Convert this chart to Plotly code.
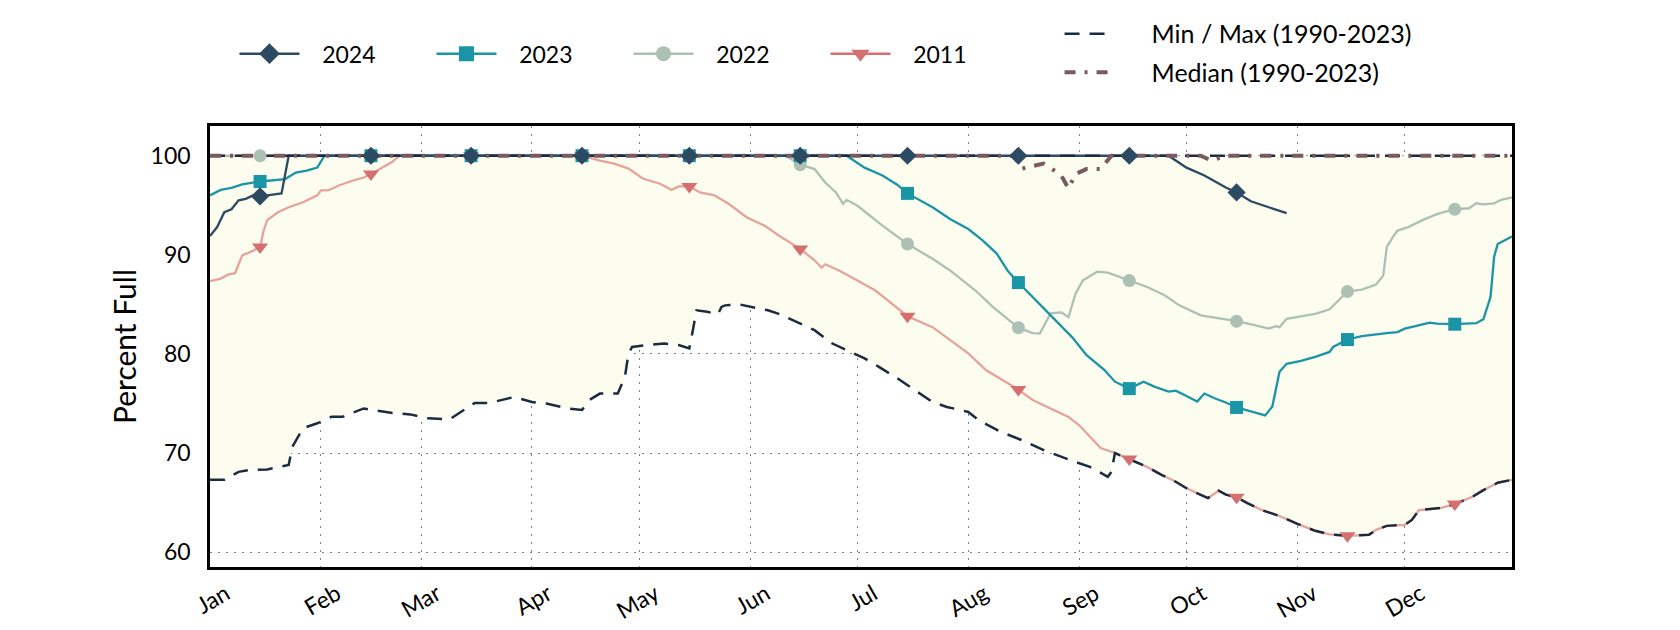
import plotly.graph_objects as go

YEAR = "2023"

# ---------------- data ----------------
s2024_dates = ["01-01","01-03","01-05","01-07","01-09","01-11","01-13","01-15","01-19","01-21","01-23",
               "02-15","03-15","04-15","05-15","06-15","07-15","08-15","09-15","09-26",
               "10-01","10-06","10-12","10-15","10-19","10-24","10-29"]
s2024_vals = [91.9,92.8,94.3,94.6,95.5,95.65,96.0,95.9,96.1,96.2,100,
              100,100,100,100,100,100,100,100,100,
              98.8,98.0,96.8,96.3,95.4,94.8,94.2]

s2023_dates = ["01-01","01-04","01-07","01-10","01-15","01-19","01-22","01-25","01-28","01-31","02-02",
               "02-15","03-15","04-15","05-15","06-15","06-28","07-03","07-08","07-12","07-15","07-22",
               "07-27","08-01","08-05","08-09","08-12","08-15","08-19","08-24","08-28","08-30","09-03",
               "09-08","09-11","09-15","09-19","09-22","09-26","09-28","10-01","10-04","10-06","10-09",
               "10-12","10-15","10-19","10-23","10-25","10-27","10-29","11-02","11-06","11-10","11-11",
               "11-15","11-19","11-23","11-26","11-29","12-01","12-04","12-08","12-10","12-15","12-21",
               "12-23","12-25","12-26","12-27","12-29","12-31"]
s2023_vals = [96.0,96.55,96.75,97.1,97.4,97.5,97.65,98.3,98.5,98.8,100,
              100,100,100,100,100,100,98.8,98.0,97.1,96.2,94.8,
              93.6,92.6,91.45,90.1,88.4,87.2,85.75,83.9,82.4,81.7,79.9,
              78.4,77.2,76.5,77.2,76.7,76.2,76.3,75.75,75.2,76.0,75.5,
              75.1,74.6,74.2,73.8,74.7,78.2,79.0,79.3,79.7,80.2,80.7,
              81.45,81.8,82.0,82.1,82.2,82.55,82.8,83.15,83.05,83.0,83.1,
              83.5,85.75,89.8,91.1,91.5,91.85]

s2022_dates = ["01-01","01-15","02-15","03-15","04-15","05-15","06-11","06-15","06-19","06-22","06-25",
               "06-27","06-28","07-01","07-05","07-08","07-15","07-22","07-27","08-03","08-08","08-15",
               "08-19","08-21","08-24","08-27","08-29","08-31","09-02","09-06","09-09","09-15","09-20",
               "09-25","09-29","10-05","10-11","10-15","10-20","10-24","10-26","10-27","10-29","11-02",
               "11-06","11-10","11-12","11-15","11-19","11-23","11-25","11-26","11-28","11-29","12-02",
               "12-06","12-10","12-15","12-19","12-21","12-23","12-26","12-28","12-31"]
s2022_vals = [100,100,100,100,100,100,100,99.1,98.65,97.3,96.3,
              95.15,95.55,94.95,93.8,92.95,91.1,89.6,88.4,86.4,84.7,82.65,
              82.1,82.05,84.1,84.2,83.7,86.1,87.4,88.3,88.2,87.4,86.75,
              85.9,84.9,83.9,83.55,83.3,82.9,82.55,82.8,82.7,83.55,83.8,
              84.05,84.5,85.25,86.3,86.5,87.0,87.9,90.8,91.95,92.45,92.8,
              93.5,94.1,94.6,94.7,95.2,95.1,95.2,95.55,95.8]

s2011_dates = ["01-01","01-04","01-06","01-08","01-10","01-13","01-15","01-16","01-17","01-20","01-23",
               "01-27","01-31","02-01","02-03","02-06","02-10","02-13","02-15","02-18","02-21","02-23",
               "03-15","04-15","04-17","04-20","04-24","04-28","05-02","05-07","05-10","05-12","05-15",
               "05-18","05-22","05-26","05-31","06-05","06-09","06-15","06-19","06-21","06-22","06-26",
               "07-01","07-06","07-10","07-15","07-22","07-27","08-01","08-06","08-12","08-15","08-19",
               "08-25","08-29","09-01","09-07","09-11","09-15","09-20","09-24","09-28","10-01","10-04",
               "10-07","10-10","10-12","10-15","10-18","10-22","10-27","11-01","11-06","11-10","11-15",
               "11-21","11-23","11-26","12-01","12-03","12-05","12-11","12-15","12-20","12-23","12-27","12-31"]
s2011_vals = [87.35,87.6,88.0,88.15,89.95,90.4,90.8,92.45,93.5,94.3,94.8,
              95.3,96.0,96.5,96.5,97.0,97.5,97.8,98.15,98.8,99.4,100,
              100,100,99.8,99.5,99.2,98.7,97.7,97.15,96.55,96.9,96.9,
              96.3,96.0,95.15,93.8,92.95,91.95,90.6,89.45,88.7,89.05,88.4,
              87.4,86.4,85.25,83.8,82.7,81.4,80.05,78.35,77.0,76.4,75.35,
              74.3,73.65,72.8,70.5,70.0,69.4,68.6,67.8,67.1,66.45,65.95,
              65.45,66.2,65.8,65.55,64.95,64.25,63.65,62.85,62.15,61.8,61.65,
              61.75,62.25,62.65,62.75,63.25,64.25,64.45,64.85,65.6,66.25,67.0,67.3]

min_dates = ["01-01","01-05","01-09","01-12","01-17","01-21","01-23","01-24","01-27","01-31","02-04",
             "02-07","02-13","02-16","02-21","02-26","03-03","03-09","03-13","03-16","03-20","03-27",
             "04-01","04-05","04-11","04-15","04-17","04-20","04-25","04-27","04-28","04-29","05-03",
             "05-08","05-12","05-15","05-16","05-17","05-20","05-23","05-24","05-25","05-29","06-01",
             "06-06","06-09","06-14","06-19","06-24","06-30","07-03","07-07","07-13","07-17","07-22",
             "07-26","08-01","08-04","08-10","08-16","08-23","08-31","09-04","09-09","09-10","09-11",
             "09-15","09-20","09-24","09-28","10-01","10-04","10-07","10-10","10-12","10-15","10-18",
             "10-22","10-27","11-01","11-06","11-10","11-15","11-21","11-23","11-26","12-01","12-03",
             "12-05","12-11","12-15","12-20","12-23","12-27","12-31"]
min_vals = [67.3,67.3,68.1,68.3,68.35,68.6,68.8,70.6,72.5,73.0,73.65,
            73.65,74.5,74.3,74.05,73.9,73.5,73.4,74.3,75.05,75.05,75.65,
            75.15,75.0,74.5,74.35,75.35,76.0,76.0,77.7,80.05,80.7,80.9,
            81.05,80.9,80.55,82.4,84.4,84.25,84.0,84.75,84.9,85.0,84.8,
            84.4,84.05,83.2,82.4,81.05,80.05,79.55,78.7,77.35,76.35,75.15,
            74.65,74.15,73.3,72.15,71.3,70.15,69.1,68.6,67.6,68.1,70.0,
            69.4,68.6,67.8,67.1,66.45,65.95,65.45,66.2,65.8,65.55,64.95,
            64.25,63.65,62.85,62.15,61.8,61.65,61.75,62.25,62.65,62.75,63.25,
            64.25,64.45,64.85,65.6,66.25,67.0,67.3]

max_dates = ["01-01","12-31"]
max_vals = [100,100]

median_dates = ["01-01","08-14","08-16","08-19","08-22","08-26","08-27","08-29","08-31","09-03",
                "09-07","09-10","10-05","10-08","10-12","12-31"]
median_vals = [100,100,98.7,99.0,99.2,98.3,98.0,96.7,98.15,98.65,
               98.65,100,100,99.5,100,100]

month_labels = ["Jan","Feb","Mar","Apr","May","Jun","Jul","Aug","Sep","Oct","Nov","Dec"]
y_ticks = [60, 70, 80, 90, 100]

for a, b in [(s2024_dates, s2024_vals), (s2023_dates, s2023_vals), (s2022_dates, s2022_vals),
             (s2011_dates, s2011_vals), (min_dates, min_vals), (median_dates, median_vals)]:
    assert len(a) == len(b), (len(a), len(b))

# ---------------- styling ----------------
FONT = "Lato"
NAVY = "#1c2b3e"
MEDIAN_C = "#7a5a60"
NB = "\u00a0"

years = [
    # name, dates, vals, line colour, marker colour, symbol, size
    ("2011", s2011_dates, s2011_vals, "#e6a39c", "#d4706f", "triangle-down", 14),
    ("2022", s2022_dates, s2022_vals, "#adc0b4", "#adc0b4", "circle", 13),
    ("2023", s2023_dates, s2023_vals, "#1a95a6", "#1a95a6", "square", 13),
    ("2024", s2024_dates, s2024_vals, "#2c4a61", "#2c4a61", "diamond", 14),
]


def full(ds):
    return [f"{YEAR}-{s}" for s in ds]


fig = go.Figure()

# fill band between min and max
fig.add_trace(go.Scatter(x=full(max_dates), y=max_vals, mode="lines", line=dict(width=0),
                         showlegend=False, hoverinfo="skip"))
fig.add_trace(go.Scatter(x=full(min_dates), y=min_vals, mode="lines", line=dict(width=0),
                         fill="tonexty", fillcolor="#fcfcef", showlegend=False, hoverinfo="skip"))

# year lines
for name, ds, vs, lc, mc, sym, sz in years:
    fig.add_trace(go.Scatter(x=full(ds), y=vs, mode="lines", line=dict(color=lc, width=2.3),
                             showlegend=False, legendgroup=name, legend="legend"))

# min / max dashed lines
fig.add_trace(go.Scatter(x=full(max_dates), y=max_vals, mode="lines",
                         line=dict(color=NAVY, width=2.5, dash="15px,10px"),
                         showlegend=False, legendgroup="mm", legend="legend2"))
fig.add_trace(go.Scatter(x=full(min_dates), y=min_vals, mode="lines",
                         line=dict(color=NAVY, width=2.5, dash="15px,10px"),
                         name=NB * 5 + "Min / Max (1990-2023)", legendgroup="mm", legend="legend2"))

# median
fig.add_trace(go.Scatter(x=full(median_dates), y=median_vals, mode="lines",
                         line=dict(color=MEDIAN_C, width=4, dash="11px,9px,3px,9px"),
                         name=NB * 5 + "Median (1990-2023)", legendgroup="med", legend="legend2"))

# markers on the 15th of each month
for name, ds, vs, lc, mc, sym, sz in years:
    mx = [f"{YEAR}-{dd}" for dd, v in zip(ds, vs) if dd.endswith("-15")]
    my = [v for dd, v in zip(ds, vs) if dd.endswith("-15")]
    fig.add_trace(go.Scatter(x=mx, y=my, mode="markers",
                             marker=dict(symbol=sym, size=sz, color=mc, line=dict(width=0)),
                             showlegend=False, legendgroup=name, legend="legend"))

# legend entries (line + marker)
for name, ds, vs, lc, mc, sym, sz in reversed(years):
    fig.add_trace(go.Scatter(x=[None], y=[None], mode="lines+markers", name=NB * 3 + name,
                             line=dict(color=mc, width=2.5),
                             marker=dict(symbol=sym, size=sz + 2, color=mc, line=dict(width=0)),
                             legendgroup=name, legend="legend"))

fig.update_layout(
    width=1680, height=630,
    margin=dict(l=210, r=168, t=126, b=63, autoexpand=False),
    paper_bgcolor="white", plot_bgcolor="white",
    font=dict(family=FONT, size=22, color="black"),
    legend=dict(orientation="h", x=0.0188, y=1.164, xanchor="left", yanchor="middle",
                font=dict(family=FONT, size=23, color="black"),
                itemwidth=60, entrywidth=122, bgcolor="rgba(0,0,0,0)"),
    legend2=dict(orientation="v", x=0.6525, y=1.261, xanchor="left", yanchor="top",
                 font=dict(family=FONT, size=25, color="black"),
                 itemwidth=50, tracegroupgap=3, bgcolor="rgba(0,0,0,0)"),
    showlegend=True,
)

fig.update_xaxes(
    type="date",
    range=[f"{YEAR}-01-01", f"{YEAR}-12-31"],
    tickmode="array",
    tickvals=[f"{YEAR}-{m:02d}-01" for m in range(1, 13)],
    ticktext=month_labels,
    tickangle=-30,
    tickfont=dict(family=FONT, size=23),
    ticklabelshift=16, ticklabelstandoff=2,
    showgrid=True, gridcolor="#808080", gridwidth=1, griddash="2px,6px",
    showline=True, linecolor="black", linewidth=2.5, mirror=True,
    ticks="", zeroline=False, automargin=False,
)
fig.update_yaxes(
    range=[58.5, 103],
    tickmode="array", tickvals=y_ticks,
    tickfont=dict(family=FONT, size=23),
    title=dict(text="Percent Full", font=dict(family=FONT, size=30), standoff=6),
    showgrid=True, gridcolor="#808080", gridwidth=1, griddash="2px,6px",
    showline=True, linecolor="black", linewidth=2.5, mirror=True,
    ticks="", ticklabelstandoff=12, zeroline=False, automargin=False,
)

fig.write_html("out.html")
